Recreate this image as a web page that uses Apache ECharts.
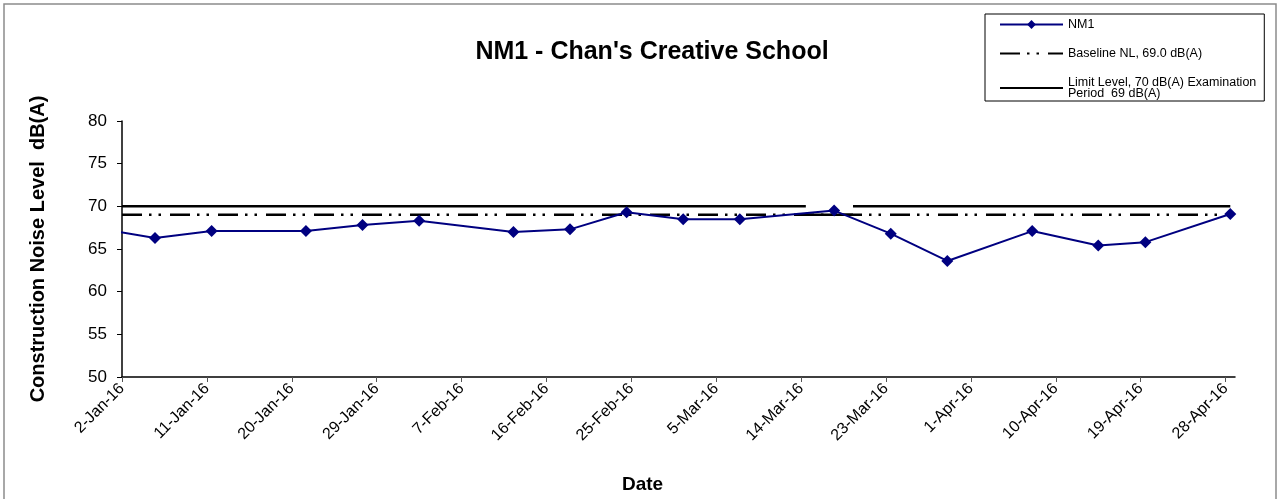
<!DOCTYPE html>
<html>
<head>
<meta charset="utf-8">
<script src="https://cdn.jsdelivr.net/npm/echarts@6/dist/echarts.min.js"></script>
<style>
html,body{margin:0;padding:0;background:#fff;}
#chart{width:1279px;height:499px;}
</style>
</head>
<body>
<div id="chart"></div>
<script>
// ---- data ----
const nm1Dates = ['2015-12-30','2016-01-05','2016-01-11','2016-01-21','2016-01-27','2016-02-02','2016-02-12','2016-02-18','2016-02-24','2016-03-01','2016-03-07','2016-03-17','2016-03-23','2016-03-29','2016-04-07','2016-04-14','2016-04-19','2016-04-28'];
const nm1Values = [67.4,66.3,67.1,67.1,67.8,68.3,67.0,67.3,69.3,68.5,68.5,69.5,66.8,63.6,67.1,65.4,65.8,69.1];
const baselineLevel = 69.0;
const baselineFrom = '2016-01-02T00:00';
const baselineTo = '2016-04-28T12:00';
const limitFrom = ['2016-01-02T00:00','2016-03-14T12:00','2016-03-19T12:00'];
const limitTo = ['2016-03-14T12:00','2016-03-19T12:00','2016-04-28T12:00'];
const limitLevel = [70,69,70];
const tickDates = ['2016-01-02','2016-01-11','2016-01-20','2016-01-29','2016-02-07','2016-02-16','2016-02-25','2016-03-05','2016-03-14','2016-03-23','2016-04-01','2016-04-10','2016-04-19','2016-04-28'];
const axisStart = '2016-01-02';
const axisEnd = '2016-04-29';
const yTicks = [50,55,60,65,70,75,80];
const monthNames = ['Jan','Feb','Mar','Apr','May','Jun','Jul','Aug','Sep','Oct','Nov','Dec'];
const seriesNames = ['NM1','Baseline NL, 69.0 dB(A)','Limit Level, 70 dB(A) Examination\nPeriod  69 dB(A)'];

// ---- helpers ----
const DAY = 86400000;
const t0 = Date.parse(axisStart + 'T00:00:00Z');
function dayOf(s){ const iso = s.length === 10 ? s + 'T00:00:00Z' : s + ':00Z'; return (Date.parse(iso) - t0) / DAY; }
function fmt(n){ const d = new Date(t0 + Math.round(n) * DAY); return d.getUTCDate() + '-' + monthNames[d.getUTCMonth()] + '-' + String(d.getUTCFullYear()).slice(2); }

const nm1Data = nm1Dates.map((d,i)=>[dayOf(d)+0.5, nm1Values[i]]);
const baselineData = [[dayOf(baselineFrom), baselineLevel],[dayOf(baselineTo), baselineLevel]];
const limitData = [];
limitFrom.forEach((f,i)=>{
  if(i>0) limitData.push([dayOf(f), '-']);
  limitData.push([dayOf(f), limitLevel[i]]);
  limitData.push([dayOf(limitTo[i]), limitLevel[i]]);
});
const tickVals = tickDates.map(dayOf);

const FONT = '"Liberation Sans", Arial, sans-serif';
const chart = echarts.init(document.getElementById('chart'));
chart.setOption({
  animation:false,
  backgroundColor:'#fff',
  title:{
    text:"NM1 - Chan's Creative School",
    left:652, top:40, textAlign:'center', padding:0,
    textStyle:{fontFamily:FONT,fontSize:25,fontWeight:'bold',color:'#000'}
  },
  graphic:[{type:'rect',shape:{x:4,y:4,width:1272,height:510},style:{fill:'none',stroke:'#8c8c8c',lineWidth:1.5},silent:true}],
  legend:{
    left:985, top:14, orient:'vertical',
    padding:[4,8,1,14], itemGap:16, itemWidth:63, itemHeight:11,
    borderColor:'#000', borderWidth:1, backgroundColor:'#fff',
    textStyle:{fontFamily:FONT,fontSize:12.5,color:'#000',lineHeight:11},
    data:[
      {name:seriesNames[0]},
      {name:seriesNames[1], itemStyle:{opacity:0}},
      {name:seriesNames[2], itemStyle:{opacity:0}}
    ]
  },
  grid:{left:122,right:44,top:121,bottom:121,containLabel:false},
  xAxis:{
    type:'value', min:dayOf(axisStart), max:dayOf(axisEnd),
    name:'Date', nameLocation:'middle', nameGap:98,
    nameTextStyle:{fontFamily:FONT,fontSize:19,fontWeight:'bold',color:'#000',padding:[0,72,0,0]},
    axisLine:{show:true,onZero:false,lineStyle:{color:'#000',width:1.5}},
    axisTick:{show:true,length:5,customValues:tickVals,lineStyle:{color:'#555'}},
    axisLabel:{customValues:tickVals,rotate:45,fontFamily:FONT,fontSize:16,color:'#000',margin:9,formatter:v=>fmt(v)},
    splitLine:{show:false}
  },
  yAxis:{
    type:'value', min:yTicks[0], max:yTicks[yTicks.length-1], interval:yTicks[1]-yTicks[0],
    name:'Construction Noise Level  dB(A)', nameLocation:'middle', nameGap:74, nameRotate:90,
    nameTextStyle:{fontFamily:FONT,fontSize:20,fontWeight:'bold',color:'#000'},
    axisLine:{show:true,lineStyle:{color:'#000',width:1.5}},
    axisTick:{show:true,length:5,lineStyle:{color:'#000'}},
    axisLabel:{fontFamily:FONT,fontSize:17,color:'#000',margin:15},
    splitLine:{show:false}
  },
  series:[
    {
      name:seriesNames[0], type:'line', data:nm1Data, z:5,
      symbol:'diamond', symbolSize:12, showSymbol:true,
      lineStyle:{color:'#000080',width:2},
      itemStyle:{color:'#000080'},
      clip:true
    },
    {
      name:seriesNames[1], type:'line', data:baselineData, z:3,
      symbol:'none',
      lineStyle:{color:'#000',width:2.5,type:[20,7,2.5,7,2.5,9]},
      itemStyle:{color:'#000'}
    },
    {
      name:seriesNames[2], type:'line', data:limitData, z:4,
      symbol:'none', connectNulls:false,
      lineStyle:{color:'#000',width:2.5},
      itemStyle:{color:'#000'}
    }
  ]
});
</script>
</body>
</html>
